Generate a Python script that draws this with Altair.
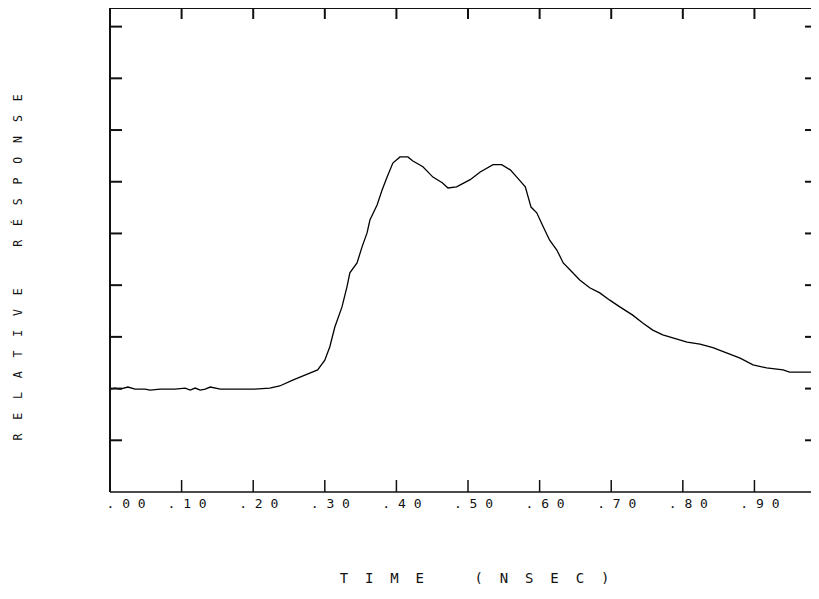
import altair as alt
import pandas as pd

# ---- data ----
time_nsec = [0.000, 0.007, 0.014, 0.025, 0.035, 0.049, 0.056, 0.070, 0.091, 0.105,
             0.112, 0.119, 0.126, 0.133, 0.140, 0.154, 0.182, 0.202, 0.223, 0.237,
             0.256, 0.279, 0.290, 0.300, 0.307, 0.314, 0.324, 0.331, 0.335, 0.345,
             0.352, 0.359, 0.363, 0.373, 0.380, 0.387, 0.395, 0.405, 0.416, 0.423,
             0.437, 0.451, 0.464, 0.472, 0.484, 0.503, 0.517, 0.535, 0.547, 0.559,
             0.570, 0.580, 0.588, 0.596, 0.605, 0.614, 0.624, 0.633, 0.645, 0.656,
             0.670, 0.684, 0.698, 0.712, 0.730, 0.744, 0.758, 0.772, 0.786, 0.806,
             0.824, 0.842, 0.861, 0.880, 0.898, 0.917, 0.940, 0.949, 0.990]
response = [1.99, 2.01, 1.99, 2.03, 1.99, 1.99, 1.97, 1.99, 1.99, 2.01,
            1.97, 2.01, 1.97, 1.99, 2.03, 1.99, 1.99, 1.99, 2.01, 2.05,
            2.17, 2.30, 2.36, 2.55, 2.81, 3.19, 3.58, 3.97, 4.24, 4.43,
            4.74, 5.01, 5.26, 5.55, 5.84, 6.09, 6.36, 6.48, 6.48, 6.40,
            6.29, 6.09, 5.98, 5.88, 5.90, 6.04, 6.19, 6.33, 6.33, 6.23,
            6.06, 5.90, 5.51, 5.40, 5.13, 4.87, 4.68, 4.43, 4.26, 4.10,
            3.95, 3.85, 3.71, 3.58, 3.42, 3.27, 3.13, 3.04, 2.98, 2.90,
            2.86, 2.79, 2.69, 2.59, 2.46, 2.40, 2.36, 2.32, 2.32]

x_label_values = [0.0, 0.1, 0.2, 0.3, 0.4, 0.5, 0.6, 0.7, 0.8, 0.9]
x_tick_labels = [".00", ".10", ".20", ".30", ".40", ".50", ".60", ".70", ".80", ".90"]
x_tick_marks = [0.1, 0.2, 0.3, 0.4, 0.5, 0.6, 0.7, 0.8, 0.9]
y_tick_marks = [1, 2, 3, 4, 5, 6, 7, 8, 9]

NB = "\u00a0"


def spread(text, gap):
    words = text.split(" ")
    return (NB * 6).join((NB * gap).join(list(w)) for w in words)


x_title = spread("TIME (NSEC)", 2)
y_title = spread("RELATIVE RÉSPONSE", 2)

W, H = 701, 484
FONT = "DejaVu Sans Mono"
INK = "#111111"

x_scale = alt.Scale(domain=[0, 0.979], nice=False, zero=False)
y_scale = alt.Scale(domain=[0, 9.36], nice=False, zero=False)

line_df = pd.DataFrame({"t": time_nsec, "r": response})
xt_df = pd.DataFrame({"t": x_tick_marks})
yt_df = pd.DataFrame({"r": y_tick_marks})

spaced = [NB.join(list(s)) for s in x_tick_labels]
label_expr = "[" + ",".join("'" + s + "'" for s in spaced) + "][round(datum.value*10)]"

x_axis = alt.Axis(values=x_label_values, labelExpr=label_expr,
                  domain=False, ticks=False, tickSize=0, grid=False,
                  labelFont=FONT, labelFontSize=13, labelColor=INK,
                  labelBaseline="middle", labelPadding=11,
                  labelAlign={"condition": {"test": "datum.value < 0.05", "value": "left"}, "value": "center"},
                  labelOffset={"condition": {"test": "datum.value < 0.05", "value": -4}, "value": 5},
                  labelFlush=False, labelOverlap=False,
                  title=x_title, titleFont=FONT, titleFontSize=14,
                  titleFontWeight="normal", titleColor=INK,
                  titleX=364, titleY=86, titleAlign="center",
                  titleBaseline="middle")
y_axis = alt.Axis(domain=False, ticks=False, tickSize=0, labels=False, grid=False,
                  title=y_title, titleFont=FONT, titleFontSize=11.5,
                  titleFontWeight="normal", titleColor=INK,
                  titleAngle=270, titleX=-92, titleY=259,
                  titleAlign="center", titleBaseline="middle")

X = alt.X("t:Q", scale=x_scale, axis=x_axis)
Y = alt.Y("r:Q", scale=y_scale, axis=y_axis)

line = alt.Chart(line_df).mark_line(color="black", strokeWidth=1.3, clip=True).encode(x=X, y=Y)

one = alt.Data(values=[{}])
frame_top = alt.Chart(one).mark_rule(color=INK, strokeWidth=2).encode(
    x=alt.value(0), x2=alt.value(W), y=alt.value(0))
frame_left = alt.Chart(one).mark_rule(color=INK, strokeWidth=2).encode(
    x=alt.value(0), y=alt.value(0), y2=alt.value(H))
frame_bottom = alt.Chart(one).mark_rule(color=INK, strokeWidth=1.6).encode(
    x=alt.value(0), x2=alt.value(W), y=alt.value(H))

top_ticks = alt.Chart(xt_df).mark_rule(color=INK, strokeWidth=2).encode(
    x=X, y=alt.value(0), y2=alt.value(11))
bottom_ticks = alt.Chart(xt_df).mark_rule(color=INK, strokeWidth=1.5).encode(
    x=X, y=alt.value(H), y2=alt.value(H - 12))
left_ticks = alt.Chart(yt_df).mark_rule(color=INK, strokeWidth=2).encode(
    y=Y, x=alt.value(0), x2=alt.value(12))
right_ticks = alt.Chart(yt_df).mark_rule(color=INK, strokeWidth=2).encode(
    y=Y, x=alt.value(W - 6), x2=alt.value(W))

chart = alt.layer(
    line, frame_top, frame_left, frame_bottom,
    top_ticks, bottom_ticks, left_ticks, right_ticks,
).properties(
    width=W, height=H,
    autosize=alt.AutoSizeParams(type="none"),
    padding={"left": 102, "top": 0, "right": 0, "bottom": 92},
    background="white",
).configure_view(strokeWidth=0)

chart.save("out.html", embed_options={"renderer": "svg", "actions": False})
